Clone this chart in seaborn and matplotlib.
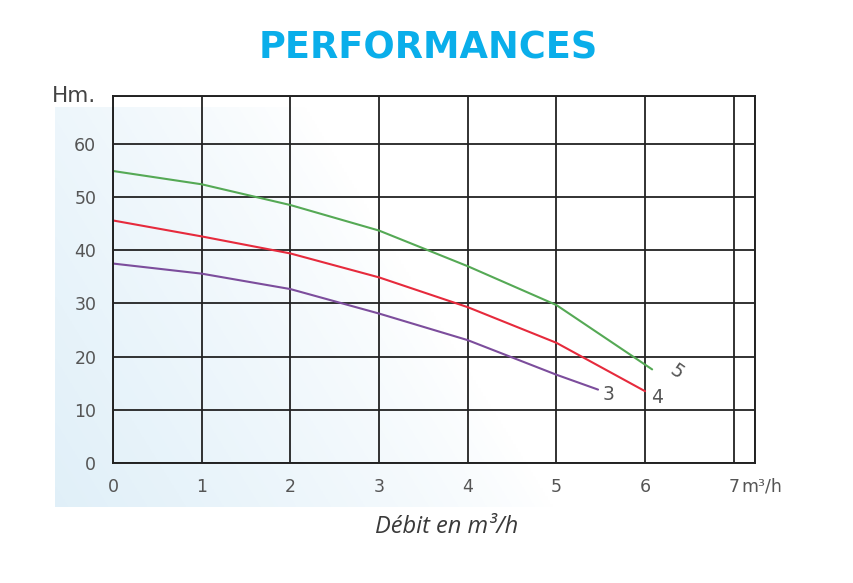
"""
Pump performance curves (Hm. vs debit m3/h), three models.
"""

import numpy as np
import pandas as pd
import matplotlib
matplotlib.use("Agg")
import matplotlib.pyplot as plt
import seaborn as sns

# --- data --------------------------------------------------------------
flow_5 = [0, 1, 2, 3, 4, 5, 6.08]
head_5 = [54.9, 52.4, 48.5, 43.7, 37.0, 29.7, 17.6]

flow_4 = [0, 1, 2, 3, 4, 5, 6.0]
head_4 = [45.6, 42.6, 39.4, 34.9, 29.3, 22.6, 13.5]

flow_3 = [0, 1, 2, 3, 4, 5, 5.47]
head_3 = [37.5, 35.6, 32.7, 28.1, 23.1, 16.6, 13.8]

models = ["5", "4", "3"]
x_ticks = [0, 1, 2, 3, 4, 5, 6, 7]
y_ticks = [0, 10, 20, 30, 40, 50, 60]

XMAX = 7.24
YMAX = 69.0

colors = {"5": "#55a955", "4": "#e62a3c", "3": "#7c4d9c"}

# long-form frame for seaborn
df = pd.concat([
    pd.DataFrame({"flow": flow_5, "head": head_5, "model": "5"}),
    pd.DataFrame({"flow": flow_4, "head": head_4, "model": "4"}),
    pd.DataFrame({"flow": flow_3, "head": head_3, "model": "3"}),
])

sns.set_theme(style="white")
plt.rcParams["font.family"] = ["DejaVu Sans"]

fig = plt.figure(figsize=(8.54, 5.83), dpi=100)

# light blue wash behind the chart
bg = fig.add_axes([55 / 854, 1 - 507 / 583, 745 / 854, 400 / 583], zorder=0)
u = np.linspace(0, 1, 300)[None, :]
v = np.linspace(1, 0, 200)[:, None]
b = np.clip(1.0 - 1.5 * u - 0.5 * v, 0, 1) ** 0.8
blue = np.array([0.88, 0.94, 0.975])
img = (1 - b[..., None]) * 1.0 + b[..., None] * blue
bg.imshow(img, aspect="auto", extent=[0, 1, 0, 1])
bg.set_axis_off()

ax = fig.add_axes([113 / 854, 1 - 463 / 583, 642 / 854, 367 / 583], zorder=1)
ax.patch.set_alpha(0)

sns.lineplot(data=df, x="flow", y="head", hue="model", palette=colors,
             hue_order=models, sort=False, lw=1.5, legend=False, ax=ax)

ax.set_xlim(0, XMAX)
ax.set_ylim(0, YMAX)

# ticks
ax.set_xticks(x_ticks + [XMAX])
ax.set_xticklabels([str(t) for t in x_ticks] + [""])
ax.set_yticks(y_ticks + [YMAX])
ax.set_yticklabels([str(t) for t in y_ticks] + ["Hm."])
ax.tick_params(axis="both", direction="out", length=7, width=1.3,
               color="#222222", labelcolor="#555555", labelsize=12.5)
ax.tick_params(axis="x", pad=4)
ax.tick_params(axis="y", pad=6, length=6)
ax.xaxis.get_major_ticks()[0].tick1line.set_visible(False)
ax.yaxis.get_major_ticks()[0].tick1line.set_visible(False)
hm = ax.get_yticklabels()[-1]
hm.set_fontsize(15.5)
hm.set_color("#444444")
hm.set_va("center")

ax.grid(True, color="#222222", lw=1.3)
for s in ax.spines.values():
    s.set_visible(True)
    s.set_color("#222222")
    s.set_linewidth(1.4)
ax.set_xlabel("")
ax.set_ylabel("")

ax.text(7.09, -4.5, "m³/h", ha="left", va="center", fontsize=12.5,
        color="#555555", clip_on=False)

# curve labels
ax.text(5.59, 12.8, "3", fontsize=13.5, color="#555555", ha="center", va="center")
ax.text(6.13, 12.4, "4", fontsize=13.5, color="#555555", ha="center", va="center")
ax.text(6.36, 17.1, "5", fontsize=13.5, color="#555555", ha="center", va="center",
        rotation=-35)

fig.text(0.502, 1 - 48 / 583, "PERFORMANCES", ha="center", va="center",
         fontsize=26.5, fontweight="bold", color="#0aaeea", family="DejaVu Sans")
fig.text(0.523, 1 - 527 / 583, "Débit en m³/h", ha="center", va="center",
         fontsize=17, style="italic", fontweight="normal", color="#3a3a3a",
         family="Open Sans")

fig.savefig("out.png", dpi=100)
